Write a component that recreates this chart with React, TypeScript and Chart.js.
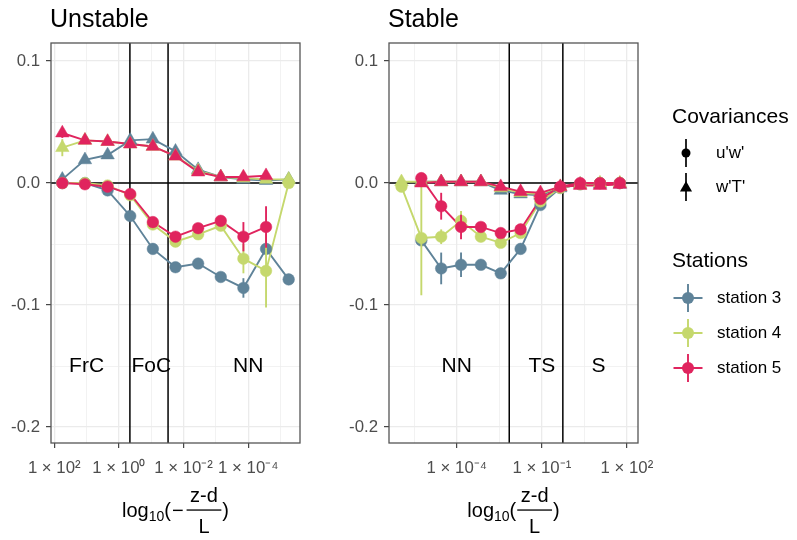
import React, { useEffect, useRef } from "react";
import { Chart, registerables } from "chart.js";
Chart.register(...registerables);

const FONT = '"Liberation Sans", Arial, Helvetica, sans-serif';

const stationNames = ["station 3", "station 4", "station 5"];
const stationColors = ["#5F8399", "#C5D86D", "#E0245E"];
const covNames = ["u'w'", "w'T'"];

// ---------- Unstable panel (x = log10(-(z-d)/L)) ----------
const unstableX = [1.75, 1.05, 0.35, -0.35, -1.05, -1.75, -2.45, -3.15, -3.85, -4.55, -5.25];
const unstableUW3 = [0.0, 0.0, -0.006, -0.027, -0.054, -0.069, -0.066, -0.077, -0.086, -0.054, -0.079];
const unstableUW4 = [0.0, 0.0, -0.002, -0.010, -0.034, -0.048, -0.042, -0.035, -0.062, -0.072, 0.0];
const unstableUW5 = [0.0, -0.001, -0.003, -0.009, -0.032, -0.044, -0.037, -0.031, -0.044, -0.036, null];
const unstableWT3 = [0.003, 0.019, 0.023, 0.035, 0.036, 0.026, 0.011, 0.005, 0.003, 0.002, 0.003];
const unstableWT4 = [0.029, 0.035, 0.034, 0.032, 0.030, 0.022, 0.010, 0.005, 0.004, 0.003, 0.003];
const unstableWT5 = [0.041, 0.035, 0.034, 0.032, 0.030, 0.022, 0.009, 0.005, 0.005, 0.006, null];
const unstableErrUW3 = [0, 0, 0, 0, 0, 0, 0, 0, 0.008, 0, 0];
const unstableErrUW4 = [0, 0, 0, 0, 0, 0, 0, 0, 0.012, 0.03, 0];
const unstableErrUW5 = [0, 0, 0, 0, 0, 0, 0, 0, 0.012, 0.017, 0];
const unstableErrWT3 = [0, 0, 0, 0, 0, 0, 0, 0, 0, 0, 0];
const unstableErrWT4 = [0.007, 0, 0, 0, 0, 0, 0, 0, 0, 0, 0];
const unstableErrWT5 = [0.004, 0, 0, 0, 0, 0, 0, 0, 0, 0, 0];

// ---------- Stable panel (x = log10((z-d)/L)) ----------
const stableX = [-5.95, -5.25, -4.55, -3.85, -3.15, -2.45, -1.75, -1.05, -0.35, 0.35, 1.05, 1.75];
const stableUW3 = [null, -0.047, -0.070, -0.067, -0.067, -0.074, -0.054, -0.018, -0.004, -0.001, 0.0, 0.0];
const stableUW4 = [-0.003, -0.045, -0.044, -0.031, -0.044, -0.049, -0.041, -0.015, -0.004, -0.001, 0.0, 0.0];
const stableUW5 = [null, 0.004, -0.019, -0.036, -0.036, -0.041, -0.038, -0.013, -0.003, 0.0, 0.0, 0.0];
const stableWT3 = [null, 0.001, 0.001, 0.001, 0.001, -0.006, -0.009, -0.010, -0.004, -0.001, -0.001, -0.001];
const stableWT4 = [0.001, 0.001, 0.001, 0.001, 0.001, -0.004, -0.008, -0.009, -0.003, -0.001, 0.0, 0.0];
const stableWT5 = [null, 0.0, 0.001, 0.001, 0.001, -0.003, -0.007, -0.008, -0.003, -0.002, -0.002, -0.001];
const stableErrUW3 = [0, 0, 0.013, 0.01, 0, 0, 0, 0, 0, 0, 0, 0];
const stableErrUW4 = [0, 0.047, 0.006, 0.008, 0, 0, 0, 0, 0, 0, 0, 0];
const stableErrUW5 = [0, 0, 0.011, 0.01, 0, 0, 0, 0, 0, 0, 0, 0];
const stableErrWT3 = [0, 0, 0, 0, 0, 0, 0, 0, 0, 0, 0, 0];
const stableErrWT4 = [0, 0, 0, 0, 0, 0, 0, 0, 0, 0, 0, 0];
const stableErrWT5 = [0, 0, 0, 0, 0, 0, 0, 0, 0, 0, 0, 0];

// ---------- axes / annotations ----------
const yRange = [-0.2131, 0.1148];
const yAllTicks = [-0.2, -0.15, -0.1, -0.05, 0, 0.05, 0.1];
const yMajorTicks = [-0.2, -0.1, 0, 0.1];

const unstableXRange = [-5.6, 2.1];
const unstableXAllTicks = [2, 1, 0, -1, -2, -3, -4, -5];
const unstableXMajorTicks = [2, 0, -2, -4];
const unstableVLines = [-0.34, -1.52];
const unstableRegimes = ["FrC", "FoC", "NN"];
const unstableRegimeX = [1, -1, -4];

const stableXRange = [-6.39, 2.39];
const stableXAllTicks = [-5.5, -4, -2.5, -1, 0.5, 2];
const stableXMajorTicks = [-4, -1, 2];
const stableVLines = [-2.15, -0.26];
const stableRegimes = ["NN", "TS", "S"];
const stableRegimeX = [-4, -1, 1];
const regimeY = -0.15;

const SUP: Record<string, string> = {
  "0": "\u2070", "1": "\u00B9", "2": "\u00B2", "3": "\u00B3", "4": "\u2074",
  "5": "\u2075", "6": "\u2076", "7": "\u2077", "8": "\u2078", "9": "\u2079", "-": "\u207B",
};
const sciLabel = (e: number) =>
  "1 \u00D7 10" + String(Math.round(e)).split("").map((c) => SUP[c] || c).join("");

const near = (list: number[], v: number) => list.some((m) => Math.abs(m - v) < 1e-6);

function buildPoints(xs: number[], ys: (number | null)[], es: number[]) {
  const out: any[] = [];
  ys.forEach((y, i) => {
    if (y === null || y === undefined) return;
    out.push({ x: xs[i], y, e: es[i] || 0 });
  });
  return out;
}

function drawTriangle(ctx: CanvasRenderingContext2D, x: number, y: number, r: number) {
  ctx.beginPath();
  ctx.moveTo(x, y - r);
  ctx.lineTo(x + r * 0.866, y + r / 2);
  ctx.lineTo(x - r * 0.866, y + r / 2);
  ctx.closePath();
  ctx.fill();
}

function drawXTitle(ctx: CanvasRenderingContext2D, cx: number, minus: boolean) {
  const fBig = `20px ${FONT}`;
  const fSub = `14px ${FONT}`;
  const base = 517;
  ctx.save();
  ctx.fillStyle = "#000";
  ctx.textBaseline = "alphabetic";
  ctx.textAlign = "left";
  ctx.font = fBig;
  const wLog = ctx.measureText("log").width;
  const wOpen = ctx.measureText("(").width;
  const wClose = ctx.measureText(")").width;
  const wMinus = minus ? ctx.measureText("\u2212").width + 3 : 0;
  const wFrac = Math.max(ctx.measureText("z-d").width, ctx.measureText("L").width) + 9;
  ctx.font = fSub;
  const wSub = ctx.measureText("10").width;
  const total = wLog + wSub + wOpen + wMinus + wFrac + wClose;
  let x = cx - total / 2;
  ctx.font = fBig;
  ctx.fillText("log", x, base);
  x += wLog;
  ctx.font = fSub;
  ctx.fillText("10", x, base + 4);
  x += wSub;
  ctx.font = fBig;
  ctx.fillText("(", x, base);
  x += wOpen;
  if (minus) {
    ctx.fillText("\u2212", x + 1, base);
    x += wMinus;
  }
  const barY = base - 7;
  ctx.fillRect(x + 1, barY - 0.6, wFrac - 2, 1.3);
  ctx.textAlign = "center";
  ctx.fillText("z-d", x + wFrac / 2, barY - 8);
  ctx.fillText("L", x + wFrac / 2, barY + 23);
  x += wFrac;
  ctx.textAlign = "left";
  ctx.fillText(")", x, base);
  ctx.restore();
}

function drawLegend(ctx: CanvasRenderingContext2D, off: number) {
  ctx.save();
  ctx.fillStyle = "#000";
  ctx.textAlign = "left";
  ctx.textBaseline = "alphabetic";
  ctx.font = `21px ${FONT}`;
  ctx.fillText("Covariances", 672 - off, 123);
  ctx.fillText("Stations", 672 - off, 267);
  ctx.font = `17px ${FONT}`;
  ctx.textBaseline = "middle";
  const covY = [153, 187];
  covNames.forEach((n, i) => {
    const kx = 686 - off;
    const ky = covY[i];
    ctx.strokeStyle = "#000";
    ctx.fillStyle = "#000";
    ctx.lineWidth = 1.7;
    ctx.beginPath();
    ctx.moveTo(kx, ky - 14);
    ctx.lineTo(kx, ky + 14);
    ctx.stroke();
    if (i === 0) {
      ctx.beginPath();
      ctx.arc(kx, ky, 4.5, 0, Math.PI * 2);
      ctx.fill();
    } else {
      drawTriangle(ctx, kx, ky + 1, 7);
    }
    ctx.fillText(n, 716 - off, ky);
  });
  const stY = [298, 333, 368];
  stationNames.forEach((n, i) => {
    const kx = 688 - off;
    const ky = stY[i];
    ctx.strokeStyle = stationColors[i];
    ctx.fillStyle = stationColors[i];
    ctx.lineWidth = 1.9;
    ctx.beginPath();
    ctx.moveTo(kx - 14.5, ky);
    ctx.lineTo(kx + 14.5, ky);
    ctx.moveTo(kx, ky - 14);
    ctx.lineTo(kx, ky + 14);
    ctx.stroke();
    ctx.beginPath();
    ctx.arc(kx, ky, 6, 0, Math.PI * 2);
    ctx.fill();
    ctx.fillStyle = "#000";
    ctx.fillText(n, 717 - off, ky);
  });
  ctx.restore();
}

const errorBarPlugin = {
  id: "errbars",
  beforeDatasetDraw(chart: any, args: any) {
    const ds = chart.data.datasets[args.index];
    if (!ds.isPoints) return;
    const ctx = chart.ctx;
    const ys = chart.scales.y;
    ctx.save();
    ctx.strokeStyle = ds.borderColor;
    ctx.lineWidth = 1.9;
    args.meta.data.forEach((pt: any, i: number) => {
      const raw = ds.data[i];
      if (!raw || !raw.e) return;
      ctx.beginPath();
      ctx.moveTo(pt.x, ys.getPixelForValue(raw.y - raw.e));
      ctx.lineTo(pt.x, ys.getPixelForValue(raw.y + raw.e));
      ctx.stroke();
    });
    ctx.restore();
  },
};

const panelPlugin = {
  id: "panel",
  beforeDatasetsDraw(chart: any, _a: any, opts: any) {
    const { ctx, chartArea: a, scales } = chart;
    ctx.save();
    ctx.beginPath();
    ctx.rect(a.left, a.top, a.right - a.left, a.bottom - a.top);
    ctx.clip();
    ctx.strokeStyle = "#000";
    ctx.lineWidth = 1.5;
    const y0 = scales.y.getPixelForValue(0);
    ctx.beginPath();
    ctx.moveTo(a.left, y0);
    ctx.lineTo(a.right, y0);
    ctx.stroke();
    (opts.vlines || []).forEach((v: number) => {
      const x = scales.x.getPixelForValue(v);
      ctx.beginPath();
      ctx.moveTo(x, a.top);
      ctx.lineTo(x, a.bottom);
      ctx.stroke();
    });
    ctx.restore();
  },
  afterDatasetsDraw(chart: any, _a: any, opts: any) {
    const { ctx, chartArea: a, scales } = chart;
    ctx.save();
    ctx.fillStyle = "#000";
    ctx.font = `21px ${FONT}`;
    ctx.textAlign = "center";
    ctx.textBaseline = "middle";
    const labels: string[] = opts.regimes || [];
    const lx: number[] = opts.regimeX || [];
    labels.forEach((t, i) => {
      ctx.fillText(t, scales.x.getPixelForValue(lx[i]), scales.y.getPixelForValue(regimeY));
    });
    ctx.strokeStyle = "#555555";
    ctx.lineWidth = 1.3;
    ctx.strokeRect(a.left, a.top, a.right - a.left, a.bottom - a.top);
    ctx.restore();
  },
  afterDraw(chart: any, _a: any, opts: any) {
    const { ctx, chartArea: a } = chart;
    ctx.save();
    ctx.fillStyle = "#000";
    ctx.font = `25px ${FONT}`;
    ctx.textAlign = "left";
    ctx.textBaseline = "alphabetic";
    ctx.fillText(opts.title, a.left - 1, 27);
    ctx.restore();
    drawXTitle(ctx, (a.left + a.right) / 2, !!opts.minus);
    if (opts.legend) drawLegend(ctx, opts.offset || 0);
  },
};

function makeConfig(p: any): any {
  const lineSets: any[] = [];
  const pointSets: any[] = [];
  let order = 0;
  for (let s = 2; s >= 0; s--) {
    for (let c = 1; c >= 0; c--) {
      const data = buildPoints(p.x, p.series[s][c], p.errors[s][c]);
      const color = stationColors[s];
      lineSets.push({
        label: `${stationNames[s]} ${covNames[c]} line`,
        data,
        showLine: true,
        borderColor: color,
        backgroundColor: color,
        borderWidth: 1.9,
        pointRadius: 0,
        pointHoverRadius: 0,
        order: 20 + order,
      });
      pointSets.push({
        label: `${stationNames[s]} ${covNames[c]}`,
        data,
        isPoints: true,
        showLine: false,
        borderColor: color,
        backgroundColor: color,
        pointStyle: c === 0 ? "circle" : "triangle",
        pointRadius: c === 0 ? 5.8 : 7.8,
        pointHoverRadius: c === 0 ? 5.8 : 7.8,
        pointBorderWidth: 0.5,
        order: order,
      });
      order++;
    }
  }
  const xMajor: number[] = p.xMajor;
  const xAll: number[] = p.xAll;
  return {
    type: "scatter",
    data: { datasets: [...pointSets, ...lineSets] },
    options: {
      responsive: false,
      animation: false,
      events: [],
      layout: { padding: { left: 0, right: p.padRight, top: 43, bottom: 0 } },
      plugins: {
        legend: { display: false },
        tooltip: { enabled: false },
        panel: {
          title: p.title,
          vlines: p.vlines,
          regimes: p.regimes,
          regimeX: p.regimeX,
          minus: p.minus,
          legend: p.legend,
          offset: p.offset,
        },
      },
      scales: {
        x: {
          type: "linear",
          min: p.xRange[0],
          max: p.xRange[1],
          reverse: p.reverse,
          afterBuildTicks: (axis: any) => {
            axis.ticks = xAll.map((v) => ({ value: v }));
          },
          afterFit: (axis: any) => {
            axis.height = 97;
          },
          border: { display: false },
          grid: {
            color: "#EBEBEB",
            lineWidth: (ctx: any) => (ctx.tick && near(xMajor, ctx.tick.value) ? 1.3 : 0.65),
            tickColor: (ctx: any) =>
              ctx.tick && near(xMajor, ctx.tick.value) ? "#333333" : "rgba(0,0,0,0)",
            tickLength: 5,
            tickWidth: 1.1,
          },
          ticks: {
            autoSkip: false,
            maxRotation: 0,
            minRotation: 0,
            padding: 10,
            color: "#4D4D4D",
            font: { family: FONT, size: 16.8 },
            callback: (v: any) => (near(xMajor, Number(v)) ? sciLabel(Number(v)) : ""),
          },
        },
        y: {
          type: "linear",
          min: yRange[0],
          max: yRange[1],
          afterBuildTicks: (axis: any) => {
            axis.ticks = yAllTicks.map((v) => ({ value: v }));
          },
          afterFit: (axis: any) => {
            axis.width = p.yWidth;
          },
          border: { display: false },
          grid: {
            color: "#EBEBEB",
            lineWidth: (ctx: any) => (ctx.tick && near(yMajorTicks, ctx.tick.value) ? 1.3 : 0.65),
            tickColor: (ctx: any) =>
              ctx.tick && near(yMajorTicks, ctx.tick.value) ? "#333333" : "rgba(0,0,0,0)",
            tickLength: 5,
            tickWidth: 1.1,
          },
          ticks: {
            autoSkip: false,
            padding: 6,
            color: "#4D4D4D",
            font: { family: FONT, size: 16.8 },
            callback: (v: any) => (near(yMajorTicks, Number(v)) ? Number(v).toFixed(1) : ""),
          },
        },
      },
    },
    plugins: [errorBarPlugin, panelPlugin],
  };
}

export default function App() {
  const leftRef = useRef<HTMLCanvasElement>(null);
  const rightRef = useRef<HTMLCanvasElement>(null);

  useEffect(() => {
    const left = new Chart(
      leftRef.current as HTMLCanvasElement,
      makeConfig({
        title: "Unstable",
        x: unstableX,
        series: [
          [unstableUW3, unstableWT3],
          [unstableUW4, unstableWT4],
          [unstableUW5, unstableWT5],
        ],
        errors: [
          [unstableErrUW3, unstableErrWT3],
          [unstableErrUW4, unstableErrWT4],
          [unstableErrUW5, unstableErrWT5],
        ],
        xRange: unstableXRange,
        xAll: unstableXAllTicks,
        xMajor: unstableXMajorTicks,
        vlines: unstableVLines,
        regimes: unstableRegimes,
        regimeX: unstableRegimeX,
        reverse: true,
        minus: true,
        legend: false,
        offset: 0,
        padRight: 20,
        yWidth: 51,
      })
    );
    const right = new Chart(
      rightRef.current as HTMLCanvasElement,
      makeConfig({
        title: "Stable",
        x: stableX,
        series: [
          [stableUW3, stableWT3],
          [stableUW4, stableWT4],
          [stableUW5, stableWT5],
        ],
        errors: [
          [stableErrUW3, stableErrWT3],
          [stableErrUW4, stableErrWT4],
          [stableErrUW5, stableErrWT5],
        ],
        xRange: stableXRange,
        xAll: stableXAllTicks,
        xMajor: stableXMajorTicks,
        vlines: stableVLines,
        regimes: stableRegimes,
        regimeX: stableRegimeX,
        reverse: false,
        minus: false,
        legend: true,
        offset: 320,
        padRight: 159,
        yWidth: 69,
      })
    );
    return () => {
      left.destroy();
      right.destroy();
    };
  }, []);

  return (
    <div
      style={{
        position: "absolute",
        left: 0,
        top: 0,
        width: 797,
        height: 540,
        background: "#ffffff",
        overflow: "hidden",
      }}
    >
      <canvas
        ref={leftRef}
        width={320}
        height={540}
        style={{ position: "absolute", left: 0, top: 0, width: 320, height: 540 }}
      />
      <canvas
        ref={rightRef}
        width={477}
        height={540}
        style={{ position: "absolute", left: 320, top: 0, width: 477, height: 540 }}
      />
    </div>
  );
}
